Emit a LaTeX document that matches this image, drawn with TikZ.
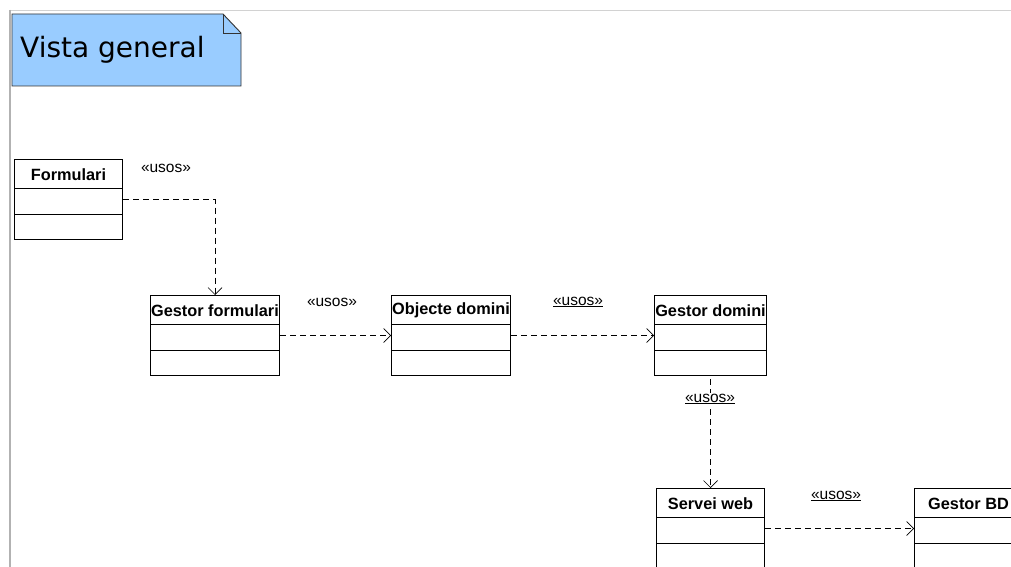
\documentclass[tikz,border=0pt]{standalone}
\usepackage{fontspec}
\setmainfont{Liberation Sans}
\newfontfamily\notefont{DejaVu Sans}
\usetikzlibrary{arrows.meta,calc}
\definecolor{notefill}{HTML}{99CCFF}
\tikzset{
  umlbox/.style={draw=black, line width=1pt, fill=white, minimum height=80pt, inner sep=0pt},
  clsname/.style={font=\fontsize{16.3}{18}\selectfont\bfseries, inner sep=0pt},
  stereo/.style={font=\fontsize{15.5}{17}\selectfont, inner sep=1pt},
  usesdep/.style={draw=black, line width=0.7pt, dash pattern=on 6pt off 4pt, -{Straight Barb[length=7pt,width=14pt]}}
}
\newcommand{\umlcls}[5]{%
  \node[umlbox, minimum width=#4pt, anchor=north west] (#1) at (#2,#3) {};
  \node[clsname] (#1-t) at ($(#1.north)+(0,15.5)$) {#5};
  \draw[line width=1pt] ([yshift=-29pt]#1.north west) -- ([yshift=-29pt]#1.north east);
  \draw[line width=1pt] ([yshift=-55pt]#1.north west) -- ([yshift=-55pt]#1.north east);
}
\begin{document}
\begin{tikzpicture}[x=1pt,y=-1pt]
\useasboundingbox (0,0) rectangle (1011,567);
\clip (0,0) rectangle (1011,567);
\fill[white] (0,0) rectangle (1011,567);
% frame
\draw[gray!35, line width=1.2pt] (9,10.5) -- (1015,10.5);
\draw[gray!60, line width=2pt] (10,10) -- (10,570);
% note
\draw[fill=notefill, draw=black!80, line width=0.9pt] (12,14) -- (223,14) -- (241,33) -- (241,86) -- (12,86) -- cycle;
\draw[black!80, line width=0.9pt] (223,14) -- (223,33) -- (241,33);
\node[anchor=base west, inner sep=0pt, font=\notefont\fontsize{28}{30}\selectfont] (title) at (20,58) {Vista general};
% classes
\umlcls{fm}{14}{159}{108}{Formulari}
\umlcls{gf}{150}{295}{129}{Gestor formulari}
\umlcls{od}{391}{295}{119}{Objecte domini}
\umlcls{gd}{654}{295}{112}{Gestor domini}
\umlcls{sw}{656}{488}{108}{Servei web}
\umlcls{bd}{914}{488}{108}{Gestor BD}
% dependencies
\draw[usesdep] (fm.east) -| (gf.north);
\node[stereo] (l1) at (166,168) {«usos»};
\draw[usesdep] (gf.east) -- (od.west);
\node[stereo] (l2) at (332,302) {«usos»};
\draw[usesdep] (od.east) -- (gd.west);
\node[stereo] (l3) at (578,302) {\underline{«usos»}};
\draw[usesdep] ([yshift=-3pt]gd.south) -- (sw.north);
\node[stereo, fill=white] (l4) at (710,399) {\underline{«usos»}};
\draw[usesdep] (sw.east) -- (bd.west);
\node[stereo] (l5) at (836,496) {\underline{«usos»}};
\end{tikzpicture}
\end{document}
